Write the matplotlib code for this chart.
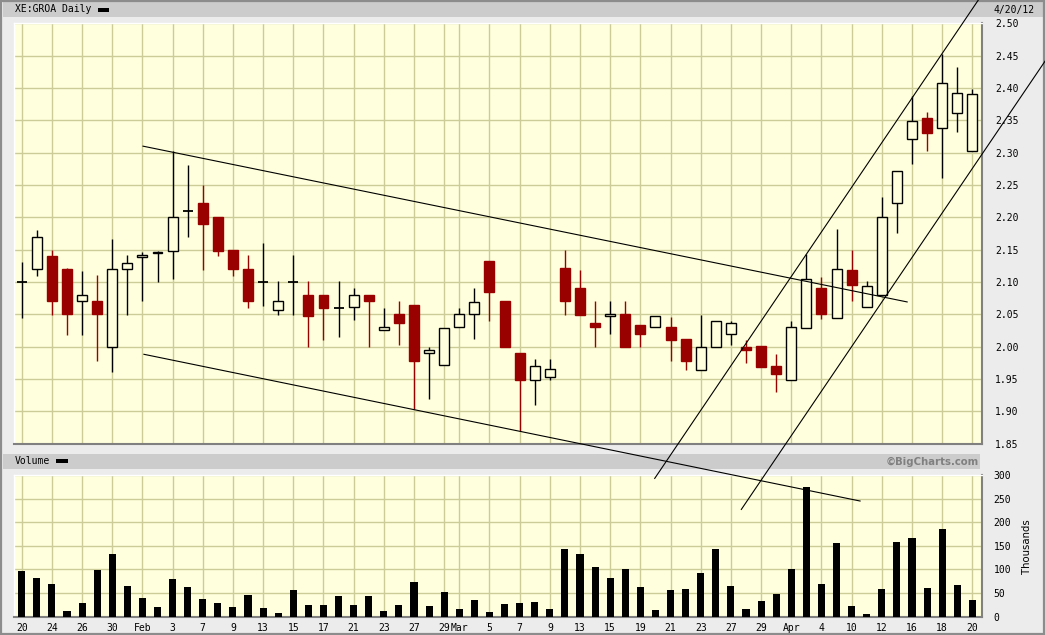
import numpy as np
import pandas as pd
import matplotlib
matplotlib.use("Agg")
import matplotlib.pyplot as plt
from matplotlib.patches import Rectangle

W, H = 1045, 635

# Xetra trading days, Good Friday and Easter Monday closed
holidays = ["2012-04-06", "2012-04-09"]
dates = pd.bdate_range("2012-01-20", "2012-04-20").drop(pd.to_datetime(holidays))

opens = [2.100, 2.120, 2.140, 2.120, 2.070, 2.071, 2.000, 2.120, 2.138, 2.145,
         2.148, 2.210, 2.222, 2.201, 2.149, 2.120, 2.100, 2.057, 2.100, 2.080,
         2.079, 2.060, 2.061, 2.080, 2.026, 2.050, 2.065, 1.990, 1.971, 2.030,
         2.050, 2.132, 2.071, 1.990, 1.949, 1.953, 2.121, 2.091, 2.037, 2.047,
         2.050, 2.033, 2.030, 2.031, 2.011, 1.963, 2.000, 2.019, 2.000, 2.001,
         1.970, 1.949, 2.029, 2.091, 2.044, 2.119, 2.061, 2.079, 2.222, 2.321,
         2.353, 2.338, 2.362, 2.302]
highs = [2.131, 2.181, 2.150, 2.121, 2.117, 2.110, 2.166, 2.141, 2.147, 2.148,
         2.302, 2.281, 2.250, 2.201, 2.149, 2.141, 2.160, 2.101, 2.141, 2.101,
         2.079, 2.101, 2.091, 2.080, 2.060, 2.071, 2.065, 2.000, 2.029, 2.059,
         2.091, 2.132, 2.071, 1.990, 1.980, 1.981, 2.150, 2.119, 2.070, 2.070,
         2.071, 2.033, 2.048, 2.045, 2.011, 2.049, 2.040, 2.040, 2.010, 2.001,
         1.989, 2.040, 2.143, 2.107, 2.182, 2.150, 2.101, 2.231, 2.271, 2.387,
         2.363, 2.452, 2.432, 2.398]
lows = [2.044, 2.109, 2.049, 2.018, 2.018, 1.977, 1.960, 2.049, 2.070, 2.100,
        2.105, 2.170, 2.119, 2.140, 2.109, 2.059, 2.063, 2.049, 2.049, 2.000,
        2.010, 2.014, 2.041, 2.000, 2.026, 2.002, 1.903, 1.919, 1.971, 2.030,
        2.011, 2.039, 1.999, 1.870, 1.909, 1.948, 2.049, 2.049, 1.999, 2.020,
        2.000, 2.000, 2.030, 1.978, 1.963, 1.963, 2.000, 2.002, 1.974, 1.969,
        1.929, 1.949, 2.029, 2.042, 2.044, 2.070, 2.061, 2.079, 2.175, 2.282,
        2.302, 2.261, 2.332, 2.302]
closes = [2.100, 2.170, 2.070, 2.050, 2.079, 2.050, 2.120, 2.130, 2.141, 2.147,
          2.201, 2.210, 2.189, 2.148, 2.120, 2.070, 2.100, 2.071, 2.100, 2.048,
          2.059, 2.060, 2.080, 2.070, 2.030, 2.036, 1.978, 1.995, 2.029, 2.050,
          2.069, 2.084, 1.999, 1.948, 1.970, 1.965, 2.070, 2.049, 2.030, 2.050,
          2.000, 2.019, 2.048, 2.010, 1.978, 2.000, 2.040, 2.036, 1.994, 1.969,
          1.958, 2.030, 2.105, 2.050, 2.120, 2.095, 2.094, 2.201, 2.271, 2.349,
          2.330, 2.408, 2.393, 2.391]
# volume in thousands
volume = [97, 82, 69, 12, 29, 99, 133, 65, 40, 20,
          80, 63, 37, 29, 20, 46, 18, 8, 56, 25,
          25, 44, 25, 44, 12, 25, 73, 23, 52, 16,
          35, 10, 27, 29, 31, 16, 143, 133, 105, 82,
          101, 63, 14, 56, 59, 92, 143, 65, 16, 33,
          48, 101, 275, 69, 156, 23, 6, 59, 158, 167,
          61, 186, 67, 35]

# trend lines as (day index, price) pairs
trend_lines = [
    ([8.04, 58.68], [2.310, 2.069]),
    ([8.10, 55.56], [1.988, 1.761]),
    ([41.95, 63.80], [1.796, 2.550]),
    ([47.69, 68.50], [1.748, 2.465]),
]

price_ticks = np.round(np.arange(1.85, 2.501, 0.05), 2)
vol_ticks = np.arange(0, 301, 50)

RED = "#990000"
BG = "#ffffdd"
GRID = "#cccc99"
MONO = "DejaVu Sans Mono"


def fbox(x0, y0, x1, y1):
    # pixel box (top-left origin) -> figure fraction [l, b, w, h]
    return [x0 / W, 1 - y1 / H, (x1 - x0) / W, (y1 - y0) / H]


fig = plt.figure(figsize=(W / 100, H / 100), dpi=100)
fig.patch.set_facecolor("#ececec")

# header bands
for x0, y0, x1, y1 in [(2.5, 1.7, 1042.5, 16.7), (2.5, 454, 980, 469.3)]:
    l, b, w, h = fbox(x0, y0, x1, y1)
    fig.patches.append(Rectangle((l, b), w, h, transform=fig.transFigure,
                                 facecolor="#cccccc", edgecolor="none", zorder=1))
fig.patches.append(Rectangle((0.001, 0.0015), 0.998, 0.997, transform=fig.transFigure,
                             facecolor="none", edgecolor="#8c8c8c", lw=1.6, zorder=1))

ax = fig.add_axes(fbox(14.3, 22.7, 981.7, 443.5))
axv = fig.add_axes(fbox(14.3, 475, 981.7, 616.7))
axv.set_zorder(1.5)
ax.set_zorder(2)

x = np.arange(len(dates))
o, hi, lo, c = map(np.array, (opens, highs, lows, closes))
up = c >= o
doji = np.abs(c - o) < 0.0015

ax.vlines(x, lo, hi, colors=np.where(up, "black", RED), lw=1.0, zorder=3)
body = ~doji
ax.bar(x[body], np.abs(c - o)[body], bottom=np.minimum(o, c)[body], width=0.66,
       color=np.where(up[body], BG, RED), edgecolor=np.where(up[body], "black", RED),
       lw=1.0, zorder=4)
ax.hlines(o[doji], x[doji] - 0.33, x[doji] + 0.33, colors="black", lw=1.3, zorder=4)

for tx, ty in trend_lines:
    ax.plot(tx, ty, color="black", lw=0.8, clip_on=False, zorder=6)

axv.bar(x, volume, width=0.47, color="black", zorder=3)

# ticks: every second trading day within each month, month name on first day
tick_pos, tick_lab = [], []
count = {}
for i, d in enumerate(dates):
    k = count.get(d.month, 0)
    count[d.month] = k + 1
    if k % 2 == 0:
        tick_pos.append(i)
        new_month = i > 0 and dates[i - 1].month != d.month
        tick_lab.append(d.strftime("%b") if new_month else str(d.day))

for a in (ax, axv):
    a.set_facecolor(BG)
    a.set_xlim(-0.49, 63.62)
    a.set_xticks(tick_pos)
    a.grid(True, color=GRID, lw=1.0, zorder=0)
    a.set_axisbelow(True)
    a.yaxis.tick_right()
    a.tick_params(length=0, labelsize=7, pad=9.5)
    for s in ("top", "left"):
        a.spines[s].set_color("white")
        a.spines[s].set_linewidth(1.0)
    for s in ("bottom", "right"):
        a.spines[s].set_color("#808080")
        a.spines[s].set_linewidth(1.5)

ax.set_ylim(1.85, 2.501)
ax.set_yticks(price_ticks)
ax.set_yticklabels([f"{p:.2f}" for p in price_ticks], family=MONO)
ax.set_xticklabels([])

axv.set_ylim(0, 300)
axv.set_yticks(vol_ticks)
axv.set_yticklabels([str(v) for v in vol_ticks], family=MONO)
axv.set_xticklabels(tick_lab, family=MONO)
axv.tick_params(axis="x", pad=4.5)
axv.tick_params(axis="y", pad=8.5)

# header texts
fig.text(15 / W, 1 - 9.5 / H, "XE:GROA Daily", family=MONO, size=7, va="center")
fig.text(993 / W, 1 - 9.5 / H, "4/20/12", family=MONO, size=7, va="center")
fig.text(15 / W, 1 - 461.5 / H, "Volume", family=MONO, size=7, va="center")
fig.text(979 / W, 1 - 461.5 / H, "\u00a9BigCharts.com", family="DejaVu Sans",
         weight="bold", size=7.3, color="#808080", ha="right", va="center")
fig.text(1027 / W, 1 - 547 / H, "Thousands", family="DejaVu Sans", size=7.3,
         rotation=90, ha="center", va="center")
for x0, y0, x1, y1 in [(97.7, 7.7, 109.3, 12), (55.7, 459.3, 67.7, 463.3)]:
    l, b, w, h = fbox(x0, y0, x1, y1)
    fig.patches.append(Rectangle((l, b), w, h, transform=fig.transFigure,
                                 facecolor="black", edgecolor="none", zorder=3))

fig.savefig("out.png", dpi=100, facecolor=fig.get_facecolor())
